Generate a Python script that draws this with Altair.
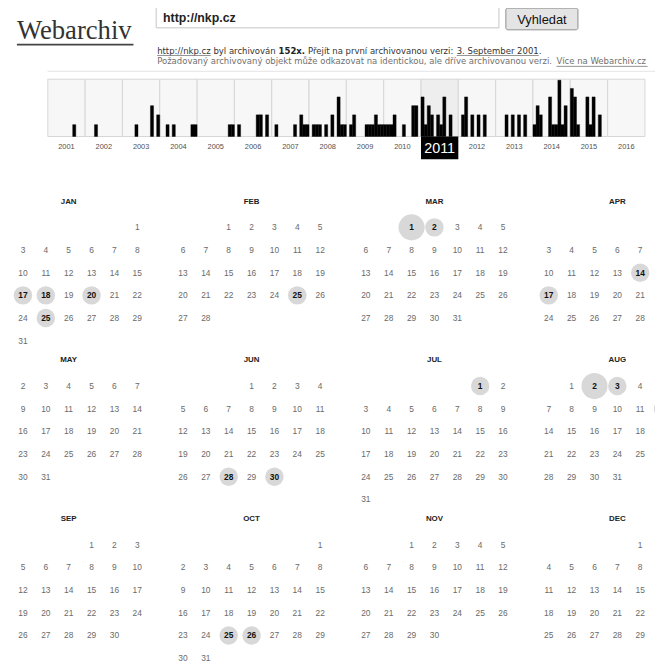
import calendar
import datetime
import unicodedata

import altair as alt
import pandas as pd

# ---------------- data ----------------
years = list(range(2001, 2017))
monthly_captures = {
    2001: [0, 0, 0, 0, 0, 0, 0, 0, 1, 0, 0, 0],
    2002: [0, 0, 0, 1, 0, 0, 0, 0, 0, 0, 0, 0],
    2003: [0, 0, 0, 0, 1, 0, 0, 0, 0, 3, 0, 2],
    2004: [0, 0, 1, 0, 1, 0, 0, 0, 0, 0, 1, 1],
    2005: [0, 0, 0, 0, 0, 0, 0, 0, 0, 0, 1, 1],
    2006: [0, 1, 0, 0, 0, 0, 0, 2, 2, 0, 2, 0],
    2007: [0, 1, 0, 0, 0, 0, 0, 1, 0, 2, 1, 1],
    2008: [0, 1, 1, 1, 0, 1, 0, 2, 0, 4, 1, 1],
    2009: [0, 1, 2, 0, 0, 0, 1, 1, 1, 2, 1, 1],
    2010: [1, 1, 1, 2, 0, 0, 1, 0, 0, 3, 3, 0],
    2011: [4, 1, 3, 2, 0, 2, 1, 4, 0, 2, 0, 0],
    2012: [0, 2, 4, 0, 2, 0, 2, 0, 2, 0, 0, 0],
    2013: [0, 0, 0, 2, 0, 2, 0, 2, 0, 2, 0, 0],
    2014: [1, 3, 2, 0, 0, 4, 1, 1, 6, 1, 3, 0],
    2015: [5, 4, 1, 0, 0, 4, 1, 4, 0, 2, 0, 0],
    2016: [0, 0, 0, 0, 0, 0, 0, 0, 0, 0, 0, 0],
}
selected_year = 2011
month_names = ["JAN", "FEB", "MAR", "APR", "MAY", "JUN",
               "JUL", "AUG", "SEP", "OCT", "NOV", "DEC"]
cap_month = [1, 1, 1, 1, 2, 3, 3, 4, 4, 6, 6, 7, 8, 8, 8, 10, 10]
cap_day = [17, 18, 20, 25, 25, 1, 2, 14, 17, 28, 30, 1, 2, 3, 12, 25, 26]
cap_count = [1, 1, 1, 1, 1, 2, 1, 1, 1, 1, 1, 1, 2, 1, 1, 1, 1]

site_title = "Webarchiv"
query_url = "http://nkp.cz"
button_label = "Vyhledat"
info_line1 = [("http://nkp.cz", "link"), ("byl archivován", "n"), ("152x.", "b"),
              ("Přejít na první archivovanou verzi:", "n"), ("3. September 2001", "link"),
              (".", "n-nospace")]
info_line2 = [("Požadovaný archivovaný objekt může odkazovat na identickou, ale dříve archivovanou verzi.", "n"),
              ("Více na Webarchiv.cz", "link")]

# ---------------- layout (chart coords = page coords - 8) ----------------
W, H = 655, 661
OFF = 8

DJ = {" ": .318, ".": .318, ",": .318, ":": .337, "/": .337,
      "a": .613, "b": .635, "c": .550, "d": .635, "e": .615, "f": .352, "g": .635,
      "h": .634, "i": .278, "j": .278, "k": .579, "l": .278, "m": .974, "n": .634,
      "o": .612, "p": .635, "q": .635, "r": .411, "s": .521, "t": .392, "u": .634,
      "v": .592, "w": .818, "x": .592, "y": .592, "z": .525,
      "P": .603, "S": .635, "V": .684, "W": .989}


def text_width(s, size, bold=False):
    tot = 0.0
    for ch in s:
        base = unicodedata.normalize("NFD", ch)[0]
        if base.isdigit():
            w = .636
        else:
            w = DJ.get(base, .62)
        tot += w
    return tot * size * (1.12 if bold else 1.0)


INFO_SIZE = 8.6


def layout_line(segments, x0, y):
    out = []
    x = x0
    for i, (txt, kind) in enumerate(segments):
        if i > 0 and kind != "n-nospace":
            x += DJ[" "] * INFO_SIZE
        bold = kind == "b"
        w = text_width(txt, INFO_SIZE, bold)
        out.append(dict(text=txt, x=x, x2=x + w, y=y, kind=kind))
        x += w
    return out


seg_rows = layout_line(info_line1, 159 - OFF, 47 - OFF) + layout_line(info_line2, 159 - OFF, 58 - OFF)
seg_df = pd.DataFrame(seg_rows)
seg_df["bold"] = seg_df["kind"] == "b"
seg_df["link"] = seg_df["kind"] == "link"
seg_df["line"] = (seg_df["y"] > 45).astype(int)

# ---------------- header ----------------
title_txt = alt.Chart(pd.DataFrame({"t": [site_title]})).mark_text(
    font="Liberation Serif", fontSize=27, color="#333333", align="left", baseline="alphabetic"
).encode(x=alt.value(17 - OFF), y=alt.value(35 - OFF), text="t:N")
title_ul = alt.Chart(pd.DataFrame({"t": [site_title]})).mark_rule(
    color="#444444", strokeWidth=1.6
).encode(x=alt.value(17 - OFF), x2=alt.value(135 - OFF), y=alt.value(41 - OFF))

box = alt.Chart(pd.DataFrame({"t": [query_url]})).mark_rect(
    fill="white", stroke="#c4c4c4", strokeWidth=1
).encode(x=alt.value(158 - OFF), x2=alt.value(505 - OFF), y=alt.value(3 - OFF), y2=alt.value(24 - OFF))
box_txt = alt.Chart(pd.DataFrame({"t": [query_url]})).mark_text(
    font="Liberation Sans", fontSize=12.5, fontWeight="bold", color="#222222",
    align="left", baseline="middle"
).encode(x=alt.value(165 - OFF), y=alt.value(14 - OFF), text="t:N")

button = alt.Chart(pd.DataFrame({"t": [button_label]})).mark_rect(
    fill="#e4e4e4", stroke="#8e8e8e", strokeWidth=1, cornerRadius=2
).encode(x=alt.value(512 - OFF), x2=alt.value(585 - OFF), y=alt.value(4 - OFF), y2=alt.value(26 - OFF))
button_txt = alt.Chart(pd.DataFrame({"t": [button_label]})).mark_text(
    font="Liberation Sans", fontSize=13, color="#111111", align="center", baseline="middle"
).encode(x=alt.value(548.5 - OFF), y=alt.value(16 - OFF), text="t:N")

pix_x = alt.Scale(domain=[0, W], range=[0, W])
pix_y = alt.Scale(domain=[0, H], range=[0, H])
info_txt = alt.Chart(seg_df).transform_filter("!datum.bold").mark_text(
    font="DejaVu Sans", fontSize=INFO_SIZE, align="left", baseline="middle"
).encode(
    x=alt.X("x:Q", scale=pix_x, axis=None),
    y=alt.Y("y:Q", scale=pix_y, axis=None),
    text="text:N",
    color=alt.Color("line:N", scale=alt.Scale(domain=[0, 1], range=["#333333", "#6f6f6f"]), legend=None),
)
info_bold = alt.Chart(seg_df).transform_filter("datum.bold").mark_text(
    font="DejaVu Sans", fontSize=INFO_SIZE, fontWeight="bold", align="left", baseline="middle", color="#222222"
).encode(x=alt.X("x:Q", scale=pix_x, axis=None), y=alt.Y("y:Q", scale=pix_y, axis=None), text="text:N")
info_ul = alt.Chart(seg_df).transform_filter("datum.link").transform_calculate(yu="datum.y + 5").mark_rule(
    color="#777777", strokeWidth=0.8
).encode(x=alt.X("x:Q", scale=pix_x, axis=None), x2="x2:Q", y=alt.Y("yu:Q", scale=pix_y, axis=None))

sep_line = alt.Chart(pd.DataFrame({"t": [0]})).mark_rule(color="#e4e4e4", strokeWidth=1).encode(
    x=alt.value(48 - OFF), x2=alt.value(W), y=alt.value(68 - OFF))

header = alt.layer(title_txt, title_ul, box, box_txt, button, button_txt, sep_line,
                   info_txt, info_bold, info_ul)

# ---------------- histogram ----------------
hist_rows = []
for y in years:
    for m, n in enumerate(monthly_captures[y]):
        if n > 0:
            hist_rows.append(dict(t0=y + m / 12, t1=y + (m + 1) / 12, n=n))
hist_df = pd.DataFrame(hist_rows)
cells_df = pd.DataFrame({"year": years, "label": [str(y) for y in years]})
cells_df["x0"] = cells_df["year"]
cells_df["x1"] = cells_df["year"] + 1
cells_df["xc"] = cells_df["year"] + 0.5

hx = alt.Scale(domain=[2001, 2017], range=[48.3 - OFF, 652.8 - OFF])
hy = alt.Scale(type="pow", exponent=0.87, domain=[0, 6], range=[134 - OFF, 77 - OFF])

cells = alt.Chart(cells_df).mark_rect(stroke="#d6d6d6", strokeWidth=1).encode(
    x=alt.X("x0:Q", scale=hx, axis=None), x2="x1:Q",
    y=alt.YDatum(0, scale=hy, axis=None), y2=alt.Y2Datum(6.12),
    fill=alt.condition(f"datum.year == {selected_year}", alt.value("#eeeeee"), alt.value("#f7f7f7")),
)
bars = alt.Chart(hist_df).mark_rect(color="black", stroke="black", strokeWidth=0.4).encode(
    x=alt.X("t0:Q", scale=hx, axis=None), x2="t1:Q",
    y=alt.Y("n:Q", scale=hy, axis=None), y2=alt.Y2Datum(0),
)
labels = alt.Chart(cells_df).transform_filter(f"datum.year != {selected_year}").mark_text(
    font="Liberation Sans", fontSize=7.5, color="#505050", baseline="middle", dy=11
).encode(x=alt.X("xc:Q", scale=hx, axis=None), y=alt.YDatum(0, scale=hy, axis=None), text="label:N")
sel_box = alt.Chart(cells_df).transform_filter(f"datum.year == {selected_year}").mark_rect(color="black").encode(
    x=alt.X("x0:Q", scale=hx, axis=None), x2="x1:Q",
    y=alt.YDatum(0, scale=hy, axis=None), y2=alt.value(157 - OFF),
)
sel_label = alt.Chart(cells_df).transform_filter(f"datum.year == {selected_year}").mark_text(
    font="Liberation Sans", fontSize=14.5, color="white", baseline="middle", dy=13
).encode(x=alt.X("xc:Q", scale=hx, axis=None), y=alt.YDatum(0, scale=hy, axis=None), text="label:N")

hist = alt.layer(cells, bars, labels, sel_box, sel_label)

# ---------------- calendar ----------------
counts = {(m, d): c for m, d, c in zip(cap_month, cap_day, cap_count)}
cal_rows = []
for m in range(1, 13):
    first_wd = (datetime.date(selected_year, m, 1).weekday() + 1) % 7  # Sunday = 0
    ndays = calendar.monthrange(selected_year, m)[1]
    for d in range(1, ndays + 1):
        k = first_wd + d - 1
        cal_rows.append(dict(month=m, day=str(d), gx=((m - 1) % 4) * 8 + k % 7,
                             gy=((m - 1) // 4) * 7 + k // 7, n=counts.get((m, d), 0)))
cal_df = pd.DataFrame(cal_rows)
names_df = pd.DataFrame({"name": month_names, "month": list(range(1, 13))})
names_df["gx"] = ((names_df["month"] - 1) % 4) * 8 + 3
names_df["gy"] = ((names_df["month"] - 1) // 4) * 7 - 1

cx = alt.Scale(domain=[0, 28], range=[0 - OFF, 648 - OFF])
cy = alt.Scale(domain=[0, 20], range=[226 - OFF, 226 - OFF + 20 * 22.95])

circles = alt.Chart(cal_df).transform_filter("datum.n > 0").mark_circle(color="#d8d8d8", opacity=1).encode(
    x=alt.X("gx:Q", scale=cx, axis=None), y=alt.Y("gy:Q", scale=cy, axis=None),
    size=alt.Size("n:Q", scale=alt.Scale(domain=[0, 2], range=[0, 700]), legend=None),
)
days = alt.Chart(cal_df).transform_filter("datum.n == 0").mark_text(
    font="Liberation Sans", fontSize=8.5, color="#6a6a6a", baseline="middle"
).encode(x=alt.X("gx:Q", scale=cx, axis=None), y=alt.Y("gy:Q", scale=cy, axis=None), text="day:N")
cap_days = alt.Chart(cal_df).transform_filter("datum.n > 0").mark_text(
    font="Liberation Sans", fontSize=8.5, fontWeight="bold", color="#111111", baseline="middle"
).encode(x=alt.X("gx:Q", scale=cx, axis=None), y=alt.Y("gy:Q", scale=cy, axis=None), text="day:N")
names = alt.Chart(names_df).mark_text(
    font="Liberation Sans", fontSize=8, fontWeight="bold", color="#222222", baseline="middle", dy=-3
).encode(x=alt.X("gx:Q", scale=cx, axis=None), y=alt.Y("gy:Q", scale=cy, axis=None), text="name:N")

cal = alt.layer(circles, days, cap_days, names)

chart = alt.layer(header, hist, cal).resolve_scale(
    x="independent", y="independent", size="independent", color="independent"
).properties(
    width=W, height=H, autosize=alt.AutoSizeParams(type="none"), padding=0, background="white"
).configure_view(stroke=None)

chart.save("out.html", embed_options={"renderer": "svg", "actions": False})
